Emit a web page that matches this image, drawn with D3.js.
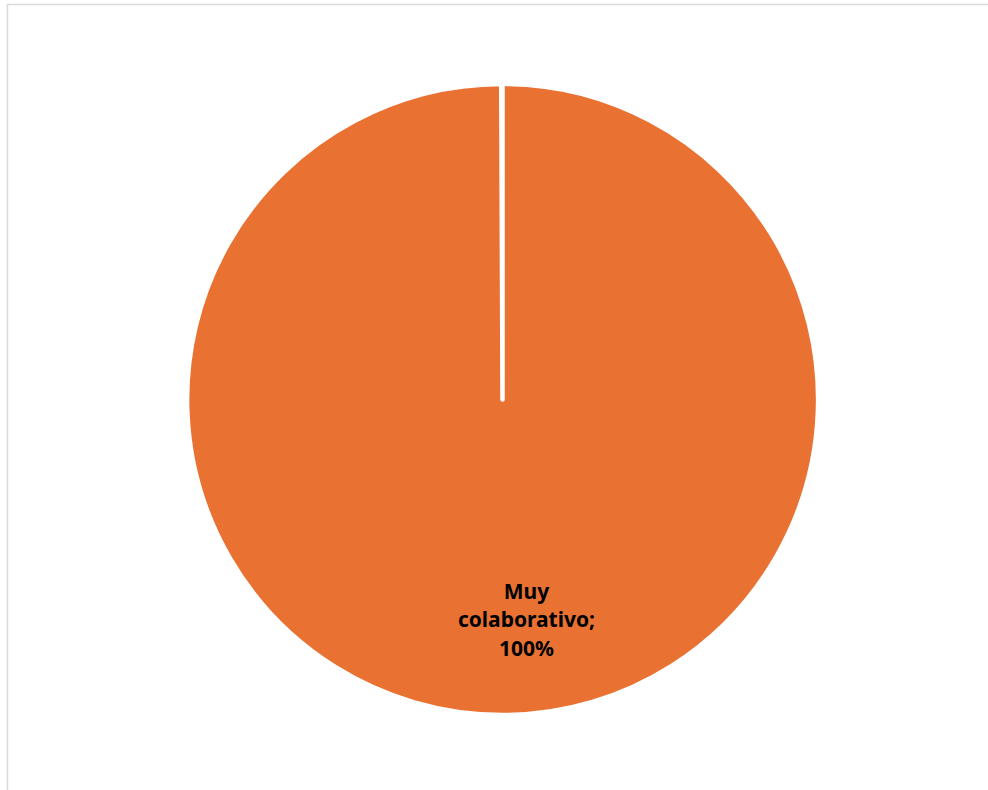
<!DOCTYPE html>
<html>
<head>
<meta charset="utf-8">
<script src="https://cdn.jsdelivr.net/npm/d3@7"></script>
<style>
  html, body { margin: 0; padding: 0; background: #fff; }
  svg { display: block; }
</style>
</head>
<body>
<svg id="chart" width="988" height="790"></svg>
<script>
const categories = ["Muy colaborativo"];
const values = [100];
const labelLines = [["Muy", "colaborativo;", "100%"]];
const colors = ["#E97132"];

const svg = d3.select("#chart");

// chart area border (extends beyond right/bottom edge)
svg.append("rect")
  .attr("x", 7.5).attr("y", 4.5)
  .attr("width", 990).attr("height", 800)
  .attr("fill", "#fff")
  .attr("stroke", "#D9D9D9")
  .attr("stroke-width", 1.5);

const cx = 502.5, cy = 399.5, R = 315.5;

const pie = d3.pie().sort(null).value(d => d)
  .startAngle(0).endAngle(2 * Math.PI - 0.004);
const arcs = pie(values);
const arc = d3.arc().innerRadius(0).outerRadius(R);

const g = svg.append("g").attr("transform", `translate(${cx},${cy})`);

g.selectAll("path.slice")
  .data(arcs)
  .enter().append("path")
  .attr("class", "slice")
  .attr("d", arc)
  .attr("fill", (d, i) => colors[i])
  .attr("stroke", "#fff")
  .attr("stroke-width", 4.5)
  .attr("stroke-linejoin", "round");

// data label
const labelG = g.selectAll("text.lbl")
  .data(arcs)
  .enter().append("text")
  .attr("class", "lbl")
  .attr("text-anchor", "middle")
  .attr("font-family", "'Noto Sans', sans-serif")
  .attr("font-weight", "bold")
  .attr("font-size", 21)
  .attr("fill", "#000")
  .attr("transform", "translate(24, 199)");

labelG.each(function(d, i) {
  const t = d3.select(this);
  labelLines[i].forEach((line, k) => {
    t.append("tspan").attr("x", 0).attr("dy", k === 0 ? 0 : 28.5).text(line);
  });
});
</script>
</body>
</html>
